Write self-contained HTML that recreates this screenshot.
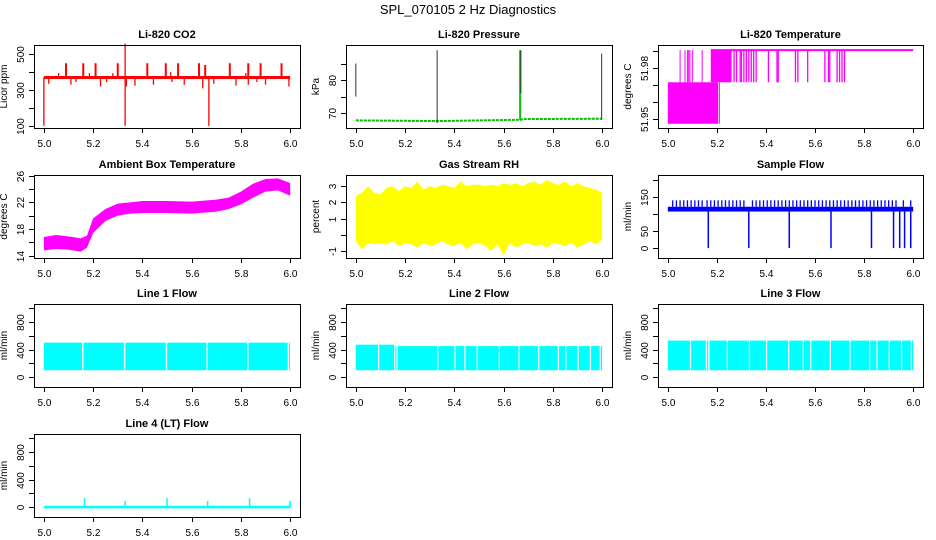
<!DOCTYPE html>
<html><head><meta charset="utf-8"><style>
body{margin:0;background:#fff}
svg{display:block;font-family:"Liberation Sans",Arial,sans-serif}
</style></head><body>
<svg id="c" width="936" height="540" viewBox="0 0 936 540">
<text x="468" y="14" text-anchor="middle" font-size="13">SPL_070105  2 Hz Diagnostics</text>
</svg>
<script>
// ---- data ----
const xTicks=[5.0,5.2,5.4,5.6,5.8,6.0];
const xTickLabels=["5.0","5.2","5.4","5.6","5.8","6.0"];
// CO2
const co2Base=370;
const co2SpikeX=[5.0,5.09,5.16,5.21,5.30,5.33,5.33,5.42,5.495,5.545,5.63,5.655,5.67,5.755,5.83,5.88,5.965,5.06,5.185,5.28,5.515,5.82,5.965,5.995,5.02,5.11,5.13,5.23,5.255,5.335,5.37,5.445,5.52,5.57,5.645,5.69,5.78,5.83,5.865,5.9];
const co2SpikeY=[100,450,450,450,450,560,100,450,450,450,450,440,100,450,450,450,450,395,395,395,400,395,395,320,335,330,345,320,345,320,325,330,345,330,310,335,325,330,345,330];
// Pressure
const presX=[5.0,5.33,5.34,5.67,5.68,6.0];
const presY=[67.8,67.6,67.6,68.0,68.2,68.3];
const presSpikeX=[5.0,5.33,5.667,5.67,5.998];
const presSpikeLo=[75,67,68,76,68];
const presSpikeHi=[85,89,89,89,88];
// Li-820 temperature
const tLowLevel=51.947, tMidLevel=51.9715, tHighLevel=51.9905;
const tHighUpX=[5.05,5.07,5.08,5.085,5.09,5.10,5.14];
const tDropX=[5.27,5.28,5.295,5.30,5.31,5.32,5.33,5.34,5.35,5.36,5.41,5.445,5.45,5.52,5.53,5.57,5.64,5.655,5.66,5.69,5.70,5.71,5.72];
// Ambient box temperature
const ambX=[5.0,5.05,5.1,5.15,5.175,5.2,5.25,5.3,5.35,5.4,5.5,5.6,5.7,5.75,5.8,5.85,5.9,5.95,6.0];
const ambLo=[14.8,15.0,14.9,14.6,15.2,17.4,19.2,20.0,20.3,20.4,20.4,20.3,20.6,21.0,21.7,22.7,23.6,23.8,23.0];
const ambHi=[16.8,17.1,16.9,16.6,17.0,19.6,21.0,21.8,22.0,22.2,22.2,22.1,22.4,22.7,23.6,24.8,25.5,25.6,24.9];
// Gas stream RH
const rhX=[5.0,5.025,5.05,5.075,5.1,5.125,5.15,5.175,5.2,5.225,5.25,5.275,5.3,5.325,5.35,5.375,5.4,5.425,5.45,5.475,5.5,5.525,5.55,5.575,5.6,5.625,5.65,5.675,5.7,5.725,5.75,5.775,5.8,5.825,5.85,5.875,5.9,5.925,5.95,5.975,6.0];
const rhHi=[2.4,2.6,3.0,2.6,2.5,2.9,3.0,2.7,3.0,2.9,3.3,2.8,3.0,2.9,3.1,3.0,2.9,3.3,3.0,3.1,3.1,3.0,3.1,3.0,3.2,3.1,3.2,3.0,3.2,3.3,3.1,3.4,3.2,3.1,3.3,3.0,3.2,3.0,2.9,2.8,2.6];
const rhLo=[-0.4,-0.9,-0.5,-0.6,-0.5,-0.6,-0.4,-0.7,-0.5,-0.6,-0.8,-0.5,-0.7,-0.6,-0.4,-0.6,-0.7,-0.5,-0.9,-0.6,-0.5,-0.7,-1.0,-0.6,-1.3,-0.5,-0.8,-0.6,-0.5,-0.7,-0.6,-0.8,-0.5,-0.6,-0.7,-0.5,-0.8,-0.6,-0.4,-0.6,-0.3];
// Sample flow
const sfLo=107, sfHi=121;
const sfSpikeX=[5.02,5.035,5.05,5.065,5.08,5.095,5.11,5.125,5.14,5.16,5.175,5.19,5.205,5.22,5.235,5.25,5.265,5.28,5.295,5.31,5.345,5.36,5.375,5.39,5.405,5.42,5.435,5.45,5.465,5.48,5.495,5.51,5.525,5.54,5.555,5.57,5.585,5.6,5.615,5.63,5.645,5.66,5.675,5.69,5.705,5.72,5.735,5.75,5.765,5.78,5.795,5.81,5.825,5.84,5.855,5.87,5.885,5.9,5.915,5.93,5.96,5.99];
const sfDipX=[5.165,5.33,5.495,5.665,5.83,5.92,5.945,5.965,5.99];
const sfSpikeHi=140, sfDipLo=0;
// Line flows
const l1Lo=100, l1Hi=500, l1GapX=[5.155,5.325,5.495,5.66,5.825,5.99];
const l2Lo=100, l2Hi=[470,450], l2Step=5.16, l2GapX=[5.09,5.155,5.165,5.33,5.40,5.44,5.49,5.58,5.66,5.74,5.82,5.85,5.90,5.95,5.99];
const l3Lo=100, l3Hi=530, l3GapX=[5.09,5.155,5.165,5.24,5.33,5.40,5.49,5.55,5.58,5.66,5.74,5.82,5.85,5.90,5.95,5.99];
const l4Base=0;
const l4SpikeX=[5.165,5.33,5.5,5.665,5.835,6.0];
const l4SpikeY=[130,90,130,90,130,90];

// ---- layout ----
const NS="http://www.w3.org/2000/svg";
const svg=document.getElementById('c');
const cols=[[34,300],[346,612],[658,923]];
const rows=[45,175,304,434];
const H=83;
function mk(tag,attrs,parent){const e=document.createElementNS(NS,tag);for(const k in attrs)e.setAttribute(k,attrs[k]);(parent||svg).appendChild(e);return e;}
function panel(ci,ri,ylim,yticks,ylabels,title,ylab,name){
  const L=cols[ci][0],R=cols[ci][1],T=rows[ri],B=T+H,W=R-L;
  const g=mk('g',{});
  
  
  const xs=v=>L+(v-4.96)/1.08*W;
  const ys=v=>B-(v-ylim[0])/(ylim[1]-ylim[0])*H;
  const t=mk('text',{x:(L+R)/2,y:T-7,'text-anchor':'middle','font-size':11,'font-weight':'bold'},g);t.textContent=title;
  
  const yl=mk('text',{x:0,y:0,'text-anchor':'middle','font-size':10,transform:`translate(${L-27},${(T+B)/2}) rotate(-90)`},g);yl.textContent=ylab;
  
  const plot=mk('g',{},g);
  
  const ax=mk('g',{stroke:'#000','stroke-width':1,fill:'none'},g);
  
  mk('rect',{x:L+.5,y:T+.5,width:W,height:H},ax);
  mk('line',{x1:xs(5),x2:xs(6),y1:B+.5,y2:B+.5},ax);
  xTicks.forEach((v,i)=>{const x=Math.round(xs(v))+.5;mk('line',{x1:x,x2:x,y1:B,y2:B+5},ax);
    const tl=mk('text',{x:x,y:B+19,'text-anchor':'middle','font-size':10,stroke:'none',fill:'#000'},g);tl.textContent=xTickLabels[i];
    });
  yticks.forEach((v,i)=>{const y=Math.round(ys(v))+.5;mk('line',{x1:L-5,x2:L,y1:y,y2:y},ax);
    if(ylabels[i]){const tl=mk('text',{x:0,y:0,'text-anchor':'middle','font-size':10,transform:`translate(${L-10},${y}) rotate(-90)`},g);tl.textContent=ylabels[i];
    }});
  mk('line',{x1:L+.5,x2:L+.5,y1:ys(yticks[0]),y2:ys(yticks[yticks.length-1])},ax);
  return {plot,xs,ys};
}
function vline(p,x,y1,y2,col,w){return mk('line',{x1:p.xs(x),x2:p.xs(x),y1:p.ys(y1),y2:p.ys(y2),stroke:col,'stroke-width':w||1},p.plot);}
function band(p,xa,lo,hi,col){let pts=xa.map((x,i)=>p.xs(x)+','+p.ys(hi[i]));for(let i=xa.length-1;i>=0;i--)pts.push(p.xs(xa[i])+','+p.ys(lo[i]));return mk('polygon',{points:pts.join(' '),fill:col},p.plot);}
function rect(p,x1,x2,y1,y2,col){return mk('rect',{x:p.xs(x1),width:p.xs(x2)-p.xs(x1),y:p.ys(y2),height:p.ys(y1)-p.ys(y2),fill:col},p.plot);}

// CO2
let p=panel(0,0,[88,552],[100,200,300,400,500],["100","","300","","500"],"Li-820 CO2","Licor ppm","co2");
mk('line',{x1:p.xs(5),x2:p.xs(6),y1:p.ys(co2Base),y2:p.ys(co2Base),stroke:'red','stroke-width':3},p.plot);
co2SpikeX.forEach((x,i)=>vline(p,x,co2Base,co2SpikeY[i],'red',co2SpikeY[i]>420&&co2SpikeY[i]<500?2:1.3));
// Pressure
p=panel(1,0,[65.5,90.6],[70,75,80,85],["70","","80",""],"Li-820 Pressure","kPa","pressure");
mk('polyline',{points:presX.map((x,i)=>p.xs(x)+','+p.ys(presY[i])).join(' '),fill:'none',stroke:'#00c000','stroke-width':2,'stroke-dasharray':'3 1'},p.plot);
presSpikeX.forEach((x,i)=>vline(p,x,presSpikeLo[i],presSpikeHi[i],i==2?'#00c000':'#333',i==2?2:1));
// Li-820 Temperature
p=panel(2,0,[51.9445,51.9935],[51.95,51.96,51.97,51.98,51.99],["51.95","","","51.98",""],"Li-820 Temperature","degrees C","li820-temp");
rect(p,5.0,5.205,tLowLevel,tMidLevel,'magenta');
vline(p,5.21,tLowLevel,tMidLevel,'magenta');
rect(p,5.175,5.26,tMidLevel,tHighLevel,'magenta');
mk('line',{x1:p.xs(5.175),x2:p.xs(6),y1:p.ys(tHighLevel),y2:p.ys(tHighLevel),stroke:'magenta','stroke-width':2},p.plot);
tHighUpX.forEach(x=>vline(p,x,tMidLevel,tHighLevel,'magenta'));
tDropX.forEach(x=>vline(p,x,tMidLevel,tHighLevel,'magenta',1.3));
// Ambient
p=panel(0,1,[13.65,26.1],[14,16,18,20,22,24,26],["14","","18","","22","","26"],"Ambient Box Temperature","degrees C","ambient-temp");
band(p,ambX,ambLo,ambHi,'magenta');
// RH
p=panel(1,1,[-1.44,3.7],[-1,0,1,2,3],["-1","","1","2","3"],"Gas Stream RH","percent","gas-rh");
band(p,rhX,rhLo,rhHi,'yellow');
// Sample flow
p=panel(2,1,[-29,214],[0,50,100,150,200],["0","50","","150",""],"Sample Flow","ml/min","sample-flow");
rect(p,5.0,6.0,sfLo,sfHi,'blue');
sfSpikeX.forEach(x=>vline(p,x,sfHi,sfSpikeHi,'blue',1.3));
sfDipX.forEach(x=>vline(p,x,sfDipLo,sfLo,'blue',1.5));
// Line 1
p=panel(0,2,[-143,1060],[0,200,400,600,800,1000],["0","","400","","800",""],"Line 1 Flow","ml/min","line1-flow");
rect(p,5.0,6.0,l1Lo,l1Hi,'cyan');
l1GapX.forEach(x=>rect(p,x,x+0.006,l1Lo,l1Hi,'#fff'));
// Line 2
p=panel(1,2,[-143,1060],[0,200,400,600,800,1000],["0","","400","","800",""],"Line 2 Flow","ml/min","line2-flow");
rect(p,5.0,l2Step,l2Lo,l2Hi[0],'cyan');rect(p,l2Step,6.0,l2Lo,l2Hi[1],'cyan');
l2GapX.forEach(x=>rect(p,x,x+0.005,l2Lo,l2Hi[0],'#fff'));
// Line 3
p=panel(2,2,[-143,1060],[0,200,400,600,800,1000],["0","","400","","800",""],"Line 3 Flow","ml/min","line3-flow");
rect(p,5.0,6.0,l3Lo,l3Hi,'cyan');
l3GapX.forEach(x=>rect(p,x,x+0.005,l3Lo,l3Hi,'#fff'));
// Line 4
p=panel(0,3,[-143,1060],[0,200,400,600,800,1000],["0","","400","","800",""],"Line 4 (LT) Flow","ml/min","line4-flow");
mk('line',{x1:p.xs(5),x2:p.xs(6),y1:p.ys(l4Base),y2:p.ys(l4Base),stroke:'cyan','stroke-width':2.5},p.plot);
l4SpikeX.forEach((x,i)=>vline(p,x,l4Base,l4SpikeY[i],'cyan',1.5));
</script>
</body></html>
